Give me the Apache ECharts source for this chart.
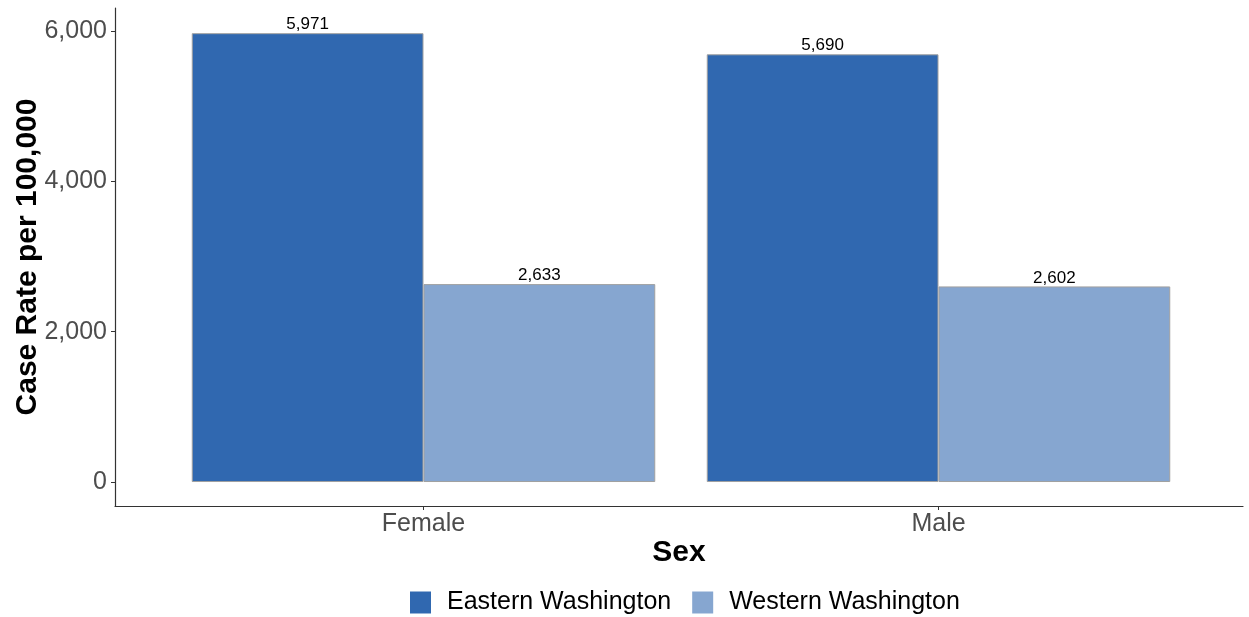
<!DOCTYPE html>
<html><head><meta charset="utf-8">
<script src="https://cdn.jsdelivr.net/npm/echarts@6/dist/echarts.min.js"></script>
<style>html,body{margin:0;padding:0;background:#fff}#c{width:1249px;height:617px}</style>
</head><body><div id="c"></div>
<script>
const categories = ['Female', 'Male'];
const seriesNames = ['Eastern Washington', 'Western Washington'];
const eastern = [5971, 5690];
const western = [2633, 2602];
const yTicks = [0, 2000, 4000, 6000];
const colors = ['#3068B0', '#86A6D0'];

const FONT = '"Liberation Sans", Arial, sans-serif';
const chart = echarts.init(document.getElementById('c'));
const yMin = -319, yMax = 6306;
const fmt = v => v.toLocaleString('en-US');

function barSeries(name, data, color) {
  return {
    name: name, type: 'bar', xAxisIndex: 1, yAxisIndex: 1,
    data: data, barGap: '0%', barCategoryGap: '10%',
    itemStyle: { color: color, borderColor: '#A0A0A0', borderWidth: 1 },
    label: { show: true, position: 'top', distance: 0, color: '#000', fontFamily: FONT, fontSize: 17,
      formatter: p => fmt(p.value) }
  };
}

chart.setOption({
  animation: false,
  backgroundColor: '#fff',
  grid: [
    { left: 115, right: 6, top: 8, bottom: 111, outerBoundsMode: 'none', containLabel: false },
    { left: 166, right: 53, top: 8, bottom: 111, outerBoundsMode: 'none', containLabel: false }
  ],
  legend: {
    top: 590, left: 410, padding: 0, itemWidth: 21, itemHeight: 22, itemGap: 21,
    icon: 'rect',
    itemStyle: { borderWidth: 0 },
    data: seriesNames,
    textStyle: { fontFamily: FONT, fontSize: 25, color: '#000', padding: [0, 0, 0, 11] }
  },
  xAxis: [
    { gridIndex: 0, type: 'value', min: 0, max: 1,
      axisLine: { show: true, onZero: false, lineStyle: { color: '#333', width: 1.2 } },
      axisTick: { show: false }, axisLabel: { show: false }, splitLine: { show: false },
      name: 'Sex', nameLocation: 'middle', nameGap: 32, nameMoveOverlap: false,
      nameTextStyle: { fontFamily: FONT, fontSize: 30, fontWeight: 'bold', color: '#000' } },
    { gridIndex: 1, type: 'category', data: categories,
      axisLine: { show: false, onZero: false },
      axisTick: { show: true, alignWithLabel: true, length: 4, lineStyle: { color: '#333' } },
      axisLabel: { margin: 6, fontFamily: FONT, fontSize: 25, color: '#4D4D4D' } }
  ],
  yAxis: [
    { gridIndex: 0, type: 'value', min: yMin, max: yMax,
      axisLine: { show: true, onZero: false, lineStyle: { color: '#333', width: 1.2 } },
      axisTick: { show: true, length: 4, customValues: yTicks, lineStyle: { color: '#333' } },
      axisLabel: { customValues: yTicks, margin: 8, fontFamily: FONT, fontSize: 25, color: '#4D4D4D',
        formatter: v => fmt(v) },
      splitLine: { show: false },
      name: 'Case Rate per 100,000', nameLocation: 'middle', nameGap: 72, nameMoveOverlap: false,
      nameTextStyle: { fontFamily: FONT, fontSize: 30, fontWeight: 'bold', color: '#000' } },
    { gridIndex: 1, type: 'value', min: yMin, max: yMax, show: false, splitLine: { show: false } }
  ],
  series: [
    barSeries(seriesNames[0], eastern, colors[0]),
    barSeries(seriesNames[1], western, colors[1])
  ]
});
</script></body></html>
